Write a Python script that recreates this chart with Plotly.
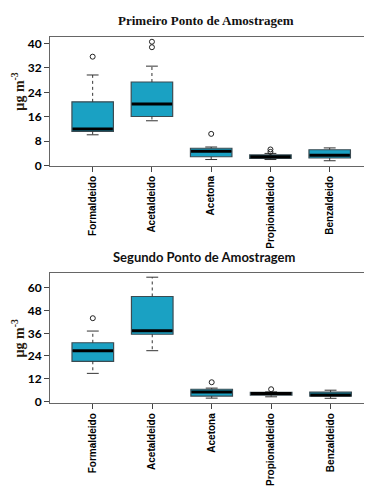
import plotly.graph_objects as go

categories = ["Formaldeido", "Acetaldeido", "Acetona", "Propionaldeido", "Benzaldeido"]
positions = [1, 2, 3, 4, 5]

# Primeiro Ponto de Amostragem (µg m-3)
p1_lower = [10.1, 14.7, 2.0, 2.0, 1.6]
p1_q1 = [11.2, 16.1, 2.9, 2.4, 2.5]
p1_median = [12.0, 20.2, 4.7, 2.9, 3.4]
p1_q3 = [20.9, 27.4, 5.7, 3.5, 5.2]
p1_upper = [29.7, 32.6, 6.1, 4.0, 5.8]
p1_out_x = ["Formaldeido", "Acetaldeido", "Acetaldeido", "Acetona", "Propionaldeido", "Propionaldeido"]
p1_out_y = [35.7, 40.6, 38.8, 10.4, 5.3, 4.5]

# Segundo Ponto de Amostragem (µg m-3)
p2_lower = [14.8, 26.8, 1.7, 2.4, 1.6]
p2_q1 = [21.2, 35.5, 2.8, 3.3, 2.8]
p2_median = [26.8, 37.4, 5.0, 4.2, 3.3]
p2_q3 = [31.0, 55.5, 6.4, 4.7, 4.9]
p2_upper = [37.2, 65.7, 7.0, 5.0, 5.9]
p2_out_x = ["Formaldeido", "Acetona", "Propionaldeido"]
p2_out_y = [44.0, 10.1, 6.4]

y1_ticks = [0, 8, 16, 24, 32, 40]
y2_ticks = [0, 12, 24, 36, 48, 60]

FILL = "#1AA1C3"
EDGE = "#3b4b52"
BOX_W = 0.7
CAP_HALF = 0.1

fig = go.Figure()


def add_panel(lower, q1, med, q3, upper, out_x, out_y, xa, ya):
    fig.add_trace(go.Box(
        x=positions, q1=q1, median=med, q3=q3, lowerfence=q1, upperfence=q3,
        width=BOX_W, fillcolor=FILL, line=dict(color=EDGE, width=1.2),
        whiskerwidth=0, boxpoints=False, showlegend=False, hoverinfo="skip",
        xaxis=xa, yaxis=ya))
    wx, wy, cx, cy, mx, my = [], [], [], [], [], []
    for p, lo, a, m, b, hi in zip(positions, lower, q1, med, q3, upper):
        wx += [p, p, None, p, p, None]
        wy += [b, hi, None, a, lo, None]
        cx += [p - CAP_HALF, p + CAP_HALF, None, p - CAP_HALF, p + CAP_HALF, None]
        cy += [hi, hi, None, lo, lo, None]
        mx += [p - BOX_W / 2 + 0.01, p + BOX_W / 2 - 0.01, None]
        my += [m, m, None]
    fig.add_trace(go.Scatter(x=wx, y=wy, mode="lines", line=dict(color="#333", width=1, dash="3px,3px"),
                             showlegend=False, hoverinfo="skip", xaxis=xa, yaxis=ya))
    fig.add_trace(go.Scatter(x=cx, y=cy, mode="lines", line=dict(color="#333", width=1),
                             showlegend=False, hoverinfo="skip", xaxis=xa, yaxis=ya))
    fig.add_trace(go.Scatter(x=mx, y=my, mode="lines", line=dict(color="black", width=3),
                             showlegend=False, hoverinfo="skip", xaxis=xa, yaxis=ya))
    ox = [positions[categories.index(c)] for c in out_x]
    fig.add_trace(go.Scatter(x=ox, y=out_y, mode="markers",
                             marker=dict(symbol="circle-open", size=5, color="#222", line=dict(width=1)),
                             showlegend=False, hoverinfo="skip", xaxis=xa, yaxis=ya))


add_panel(p1_lower, p1_q1, p1_median, p1_q3, p1_upper, p1_out_x, p1_out_y, "x", "y")
add_panel(p2_lower, p2_q1, p2_median, p2_q3, p2_upper, p2_out_x, p2_out_y, "x2", "y2")

W, H = 372, 495

xcommon = dict(range=[0.28, 5.68], tickmode="array", tickvals=positions, ticktext=categories,
               tickangle=-90, ticks="outside", ticklen=5, tickcolor="#444",
               showline=True, linecolor="#666", linewidth=1, mirror=True, showgrid=False, zeroline=False,
               tickfont=dict(family="Liberation Sans", size=10, color="black", weight="bold"))
ycommon = dict(ticks="outside", ticklen=5, tickcolor="#444", showline=True, linecolor="#666", linewidth=1,
               mirror=True, showgrid=False, zeroline=False,
               tickfont=dict(family="Lato", size=12, color="black", weight="bold"))

fig.update_layout(
    width=W, height=H, margin=dict(l=0, r=0, t=0, b=0),
    paper_bgcolor="white", plot_bgcolor="white", showlegend=False,
    xaxis=dict(domain=[42 / W, 362 / W], anchor="y", **xcommon),
    yaxis=dict(domain=[1 - 159.5 / H, 1 - 28 / H], anchor="x", range=[-0.1, 42.3],
               tickvals=y1_ticks, **ycommon),
    xaxis2=dict(domain=[42 / W, 363 / W], anchor="y2", **xcommon),
    yaxis2=dict(domain=[1 - 400.7 / H, 1 - 268 / H], anchor="x2", range=[-1.0, 68.1],
                tickvals=y2_ticks, **ycommon),
)

annotations = [
    dict(text="<b>Primeiro Ponto de Amostragem</b>", x=198 / W, y=1 - 12 / H, xref="paper", yref="paper",
         showarrow=False, xanchor="center", yanchor="middle",
         font=dict(family="Liberation Serif", size=13, color="#111")),
    dict(text="<b>Segundo Ponto de Amostragem</b>", x=196 / W, y=1 - 252 / H, xref="paper", yref="paper",
         showarrow=False, xanchor="center", yanchor="middle",
         font=dict(family="Lato", size=13, color="#111")),
    dict(text="<b>µg m<sup>-3</sup></b>", x=10 / W, y=1 - 84 / H, xref="paper", yref="paper",
         showarrow=False, xanchor="center", yanchor="middle", textangle=-90,
         font=dict(family="Liberation Serif", size=14, color="#2a1d10")),
    dict(text="<b>µg m<sup>-3</sup></b>", x=10 / W, y=1 - 335 / H, xref="paper", yref="paper",
         showarrow=False, xanchor="center", yanchor="middle", textangle=-90,
         font=dict(family="Liberation Serif", size=14, color="#2a1d10")),
]
fig.update_layout(annotations=annotations)

fig.write_html("out.html")
